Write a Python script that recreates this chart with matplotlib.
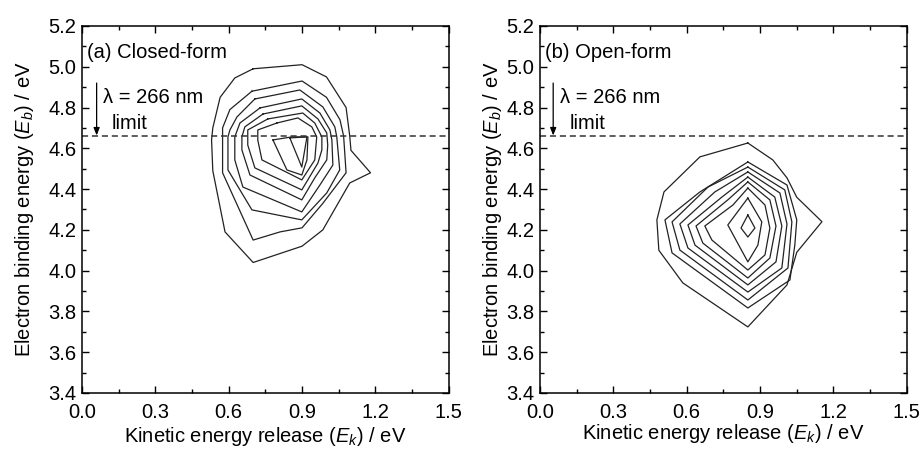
import matplotlib
matplotlib.use('Agg')
import matplotlib.pyplot as plt
import numpy as np
from matplotlib.ticker import MultipleLocator

plt.rcParams['font.family'] = ['Liberation Sans', 'DejaVu Sans']
plt.rcParams['mathtext.fontset'] = 'custom'
plt.rcParams['mathtext.rm'] = 'Liberation Sans'
plt.rcParams['mathtext.it'] = 'Liberation Sans:italic'

FS = 14.5

# contour polygons (Ek, Eb) in eV, outer -> inner
closed_x = [
    [0.70, 0.90, 1.00, 1.08, 1.095, 1.10, 1.18, 1.095, 0.985, 0.90, 0.70, 0.585, 0.535, 0.53, 0.535, 0.565, 0.625],
    [0.695, 0.90, 1.00, 1.055, 1.07, 1.08, 0.985, 0.90, 0.81, 0.70, 0.575, 0.575, 0.575, 0.605],
    [0.707, 0.891, 0.985, 1.034, 1.042, 1.054, 1.001, 0.899, 0.695, 0.597, 0.597, 0.605, 0.634],
    [0.728, 0.899, 0.973, 1.014, 1.022, 1.026, 0.973, 0.899, 0.658, 0.625, 0.625, 0.646],
    [0.740, 0.899, 0.965, 1.001, 1.005, 1.001, 0.952, 0.899, 0.687, 0.654, 0.654, 0.666],
    [0.760, 0.903, 0.952, 0.981, 0.981, 0.965, 0.899, 0.707, 0.678, 0.678],
    [0.797, 0.883, 0.940, 0.960, 0.952, 0.899, 0.736, 0.719, 0.719],
    [0.781, 0.858, 0.924, 0.920, 0.899, 0.838],
    [0.850, 0.920, 0.899],
]
closed_y = [
    [4.99, 5.01, 4.95, 4.80, 4.66, 4.59, 4.48, 4.43, 4.20, 4.12, 4.04, 4.19, 4.49, 4.64, 4.70, 4.85, 4.945],
    [4.88, 4.93, 4.85, 4.74, 4.66, 4.48, 4.33, 4.21, 4.19, 4.15, 4.48, 4.66, 4.70, 4.79],
    [4.842, 4.886, 4.803, 4.705, 4.656, 4.494, 4.381, 4.249, 4.298, 4.494, 4.656, 4.690, 4.754],
    [4.798, 4.842, 4.773, 4.690, 4.641, 4.518, 4.420, 4.288, 4.410, 4.543, 4.656, 4.724],
    [4.768, 4.808, 4.744, 4.675, 4.616, 4.543, 4.455, 4.347, 4.469, 4.592, 4.656, 4.705],
    [4.744, 4.773, 4.724, 4.656, 4.592, 4.528, 4.396, 4.504, 4.616, 4.690],
    [4.724, 4.749, 4.705, 4.656, 4.543, 4.445, 4.543, 4.640, 4.690],
    [4.641, 4.656, 4.656, 4.543, 4.469, 4.494],
    [4.651, 4.656, 4.508],
]

open_x = [
    [0.850, 0.952, 1.010, 1.050, 1.153, 1.050, 1.010, 0.850, 0.584, 0.486, 0.478, 0.507, 0.654],
    [0.850, 1.010, 1.050, 1.042, 1.022, 0.850, 0.540, 0.511, 0.654],
    [0.850, 1.001, 1.030, 1.014, 0.850, 0.572, 0.540, 0.687],
    [0.850, 0.981, 1.010, 0.989, 0.850, 0.605, 0.572, 0.715],
    [0.850, 0.960, 0.989, 0.965, 0.850, 0.634, 0.605, 0.744],
    [0.850, 0.940, 0.965, 0.940, 0.850, 0.666, 0.638, 0.768],
    [0.850, 0.920, 0.940, 0.920, 0.850, 0.703, 0.674, 0.789],
    [0.850, 0.907, 0.891, 0.850, 0.768],
    [0.850, 0.879, 0.850, 0.822],
]
open_y = [
    [4.626, 4.543, 4.455, 4.360, 4.240, 4.090, 3.930, 3.724, 3.940, 4.100, 4.249, 4.386, 4.558],
    [4.533, 4.420, 4.249, 4.125, 3.954, 3.817, 4.087, 4.249, 4.386],
    [4.508, 4.396, 4.239, 4.013, 3.856, 4.101, 4.239, 4.410],
    [4.484, 4.381, 4.229, 4.013, 3.895, 4.111, 4.229, 4.386],
    [4.459, 4.361, 4.219, 4.043, 3.930, 4.125, 4.224, 4.361],
    [4.435, 4.347, 4.219, 4.062, 3.964, 4.135, 4.219, 4.347],
    [4.405, 4.322, 4.209, 4.077, 4.003, 4.150, 4.219, 4.322],
    [4.356, 4.239, 4.125, 4.043, 4.224],
    [4.273, 4.209, 4.165, 4.209],
]

LIMIT_EV = 4.66
ARROW_X = [0.06, 0.054]
ARROW_TOP = 4.92

panels = [
    ('(a) Closed-form', closed_x, closed_y),
    ('(b) Open-form', open_x, open_y),
]

fig = plt.figure(figsize=(9.24, 4.5), dpi=100)
axes = [fig.add_axes([0.0887, 0.1267, 0.397, 0.8156]),
        fig.add_axes([0.5844, 0.1267, 0.397, 0.8156])]

for i, (ax, (title, xs, ys)) in enumerate(zip(axes, panels)):
    for x, y in zip(xs, ys):
        ax.plot(np.append(x, x[0]), np.append(y, y[0]), color='#222222', lw=0.9)

    ax.axhline(LIMIT_EV, color='#333333', lw=1.1, ls=(0, (4, 2.5)))
    ax.annotate('', xy=(ARROW_X[i], LIMIT_EV + 0.003), xytext=(ARROW_X[i], ARROW_TOP),
                arrowprops=dict(arrowstyle='-|>,head_length=0.45,head_width=0.18',
                                color='black', lw=0.9, shrinkA=0, shrinkB=0))
    ax.text(ARROW_X[i] + 0.026, 4.85, 'λ = 266 nm', fontsize=FS, va='center', ha='left')
    ax.text(0.196, 4.72, 'limit', fontsize=FS, va='center', ha='center')
    ax.text(0.022, 5.07, title, fontsize=FS, va='center', ha='left')

    ax.set_xlim(0.0, 1.5)
    ax.set_ylim(3.4, 5.2)
    ax.xaxis.set_major_locator(MultipleLocator(0.3))
    ax.xaxis.set_minor_locator(MultipleLocator(0.15))
    ax.yaxis.set_major_locator(MultipleLocator(0.2))
    ax.yaxis.set_minor_locator(MultipleLocator(0.1))
    ax.tick_params(which='both', direction='in', top=True, right=True, labelsize=FS)
    ax.tick_params(which='major', length=5, width=1)
    ax.tick_params(which='minor', length=3, width=1)
    ax.xaxis.set_major_formatter(plt.FuncFormatter(lambda v, p: f'{v:.1f}'))
    ax.yaxis.set_major_formatter(plt.FuncFormatter(lambda v, p: f'{v:.1f}'))
    ax.tick_params(axis='x', pad=7.5)
    ax.tick_params(axis='y', pad=4)
    for s in ax.spines.values():
        s.set_linewidth(1.1)

axes[0].set_ylabel('Electron binding energy ($E_b$) / eV', fontsize=FS, labelpad=9)
axes[1].set_ylabel('Electron binding energy ($E_b$) / eV', fontsize=FS, labelpad=2)
axes[0].set_xlabel('Kinetic energy release ($E_k$) / eV', fontsize=FS, labelpad=2)
axes[1].set_xlabel('Kinetic energy release ($E_k$) / eV', fontsize=FS, labelpad=0)

fig.savefig('out.png', dpi=100)
